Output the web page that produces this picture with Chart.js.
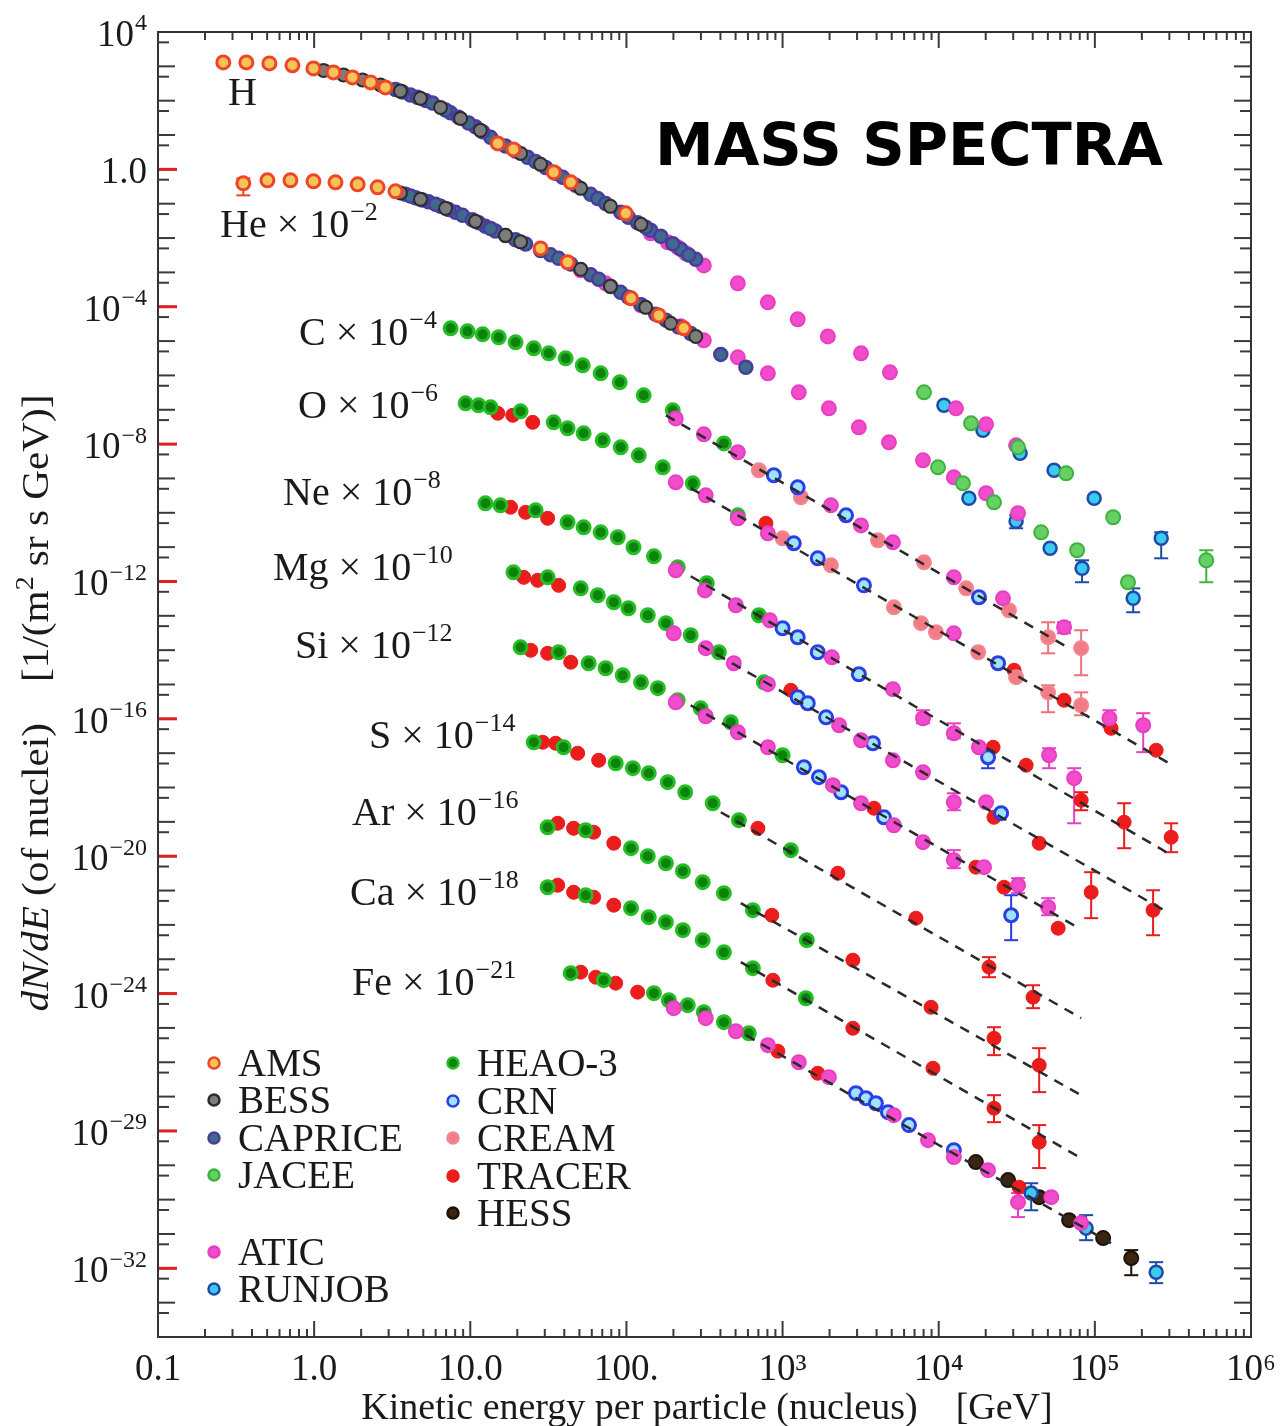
<!DOCTYPE html>
<html>
<head>
<meta charset="utf-8">
<title>Mass spectra</title>
<script src="https://cdn.jsdelivr.net/npm/chart.js@4.4.1/dist/chart.umd.min.js"></script>
<style>
  html, body { margin: 0; padding: 0; background: #fff; }
  #wrap { width: 1285px; height: 1426px; position: relative; }
</style>
</head>
<body>
<div id="wrap"><canvas id="massChart"></canvas></div>
<script>
// axis ticks
const xTickValues = [0.1, 1, 10, 100, 1e3, 1e4, 1e5, 1e6];
const xTickLabels = ['0.1', '1.0', '10.0', '100.', '10³', '10⁴', '10⁵', '10⁶'];
const yTickValues = [1e4, 1, 1e-4, 1e-8, 1e-12, 1e-16, 1e-20, 1e-24, 1e-28, 1e-32];
// [base, exponent] as printed on the original axis
const yTickLabels = [['10','4'],['1.0',''],['10','−4'],['10','−8'],['10','−12'],['10','−16'],
                     ['10','−20'],['10','−24'],['10','−29'],['10','−32']];

// points: [E in GeV, dN/dE, (err a), (err b)]  -- scaled fluxes as plotted
const amsPts = [
  [0.262,1.30e3],[0.368,1.30e3],[0.517,1.22e3],[0.726,1.07e3],[0.99,871],[1.33,667],[1.76,477],[2.30,341],
  [2.86,244],[15.0,5.71],[18.9,3.82],[34.2,0.818],[44.0,0.419],[99,0.0524],
  [0.352,0.391,0.547,0.175],[0.502,0.479],[0.705,0.479],[0.99,0.448],[1.37,0.419],[1.90,0.366],[2.55,0.299],
  [3.32,0.229],[28.2,5.0e-3],[42.0,1.96e-3],[107,1.76e-4],[161,5.6e-5],[233,2.35e-5]
];
const bessPts = [
  [1.15,762],[1.54,564],[2.04,403],[2.66,288],[3.57,190],[4.80,117],[6.45,63.8],[8.67,30.5],[11.6,13.7],
  [21.0,2.92],[28.2,1.40],[51,0.280],[79,0.0837],[124,0.0251],
  [3.57,0.206],[4.80,0.134],[6.95,0.0732],[10.8,0.0306],[16.8,0.012],[21.0,7.75e-3],[51,1.23e-3],[79,3.93e-4],
  [133,9.6e-5],[192,3.29e-5],[278,1.37e-5]
];
const capricePts = [
  [3.32,213],[4.14,147],[5.17,102],[7.48,44.2],[10.8,17.3],[13.5,8.55],[23.3,2.24],[35.2,0.765],[59,0.187],
  [91.9,0.056],[143,0.0168],[223,4.69e-3],[278,2.4e-3],
  [3.68,180],[4.59,125],[5.73,85.7],[6.95,53.2],[8.41,32.7],[9.75,22.4],[12.0,12.4],[16.8,4.80],[19.5,3.41],
  [26.2,1.69],[30.4,1.14],[39.1,0.585],[47.3,0.347],[65.5,0.141],[73.6,0.102],[103,0.0401],[118,0.0279],
  [133,0.0205],[166,0.0113],[198,6.78e-3],[251,3.22e-3],
  [3.85,0.187],[4.46,0.15],[5.40,0.114],[6.45,0.0837],[8.05,0.056],[12.5,0.0219],[14.5,0.0161],[19.5,8.9e-3],
  [32.7,3.24e-3],[59,8.5e-4],[91.9,2.62e-4],[154,6.0e-5],[402,4.1e-6],[582,1.72e-6],
  [4.14,0.167],[4.95,0.129],[6.0,0.097],[7.26,0.0676],[8.93,0.0458],[10.3,0.0341],[11.3,0.0281],[13.5,0.0189],
  [16.8,0.0119],[22.6,6.73e-3],[28.2,4.36e-3],[36.8,2.56e-3],[44.0,1.76e-3],[66.4,6.3e-4],[79.3,3.9e-4],
  [103,1.88e-4],[124,1.15e-4],[179,4.07e-5],[216,2.55e-5],[258,1.66e-5]
];
const jaceePts = [
  [8050,3.22e-7],[16100,4.03e-8],[32200,8.07e-9],[65500,1.41e-9],[131000,7.4e-11],[517000,4.14e-12,8.1e-12,9.5e-13],
  [9900,2.11e-9],[14300,7.2e-10],[22600,2.02e-10],[45300,2.7e-11],[77000,8.1e-12],[163000,9.5e-13]
];
const aticPts = [
  [143,0.0137],[184,0.0075],[213,5.36e-3],[240,3.59e-3],[313,1.6e-3],[517,4.8e-4],[805,1.34e-4],[1250,4.3e-5],
  [1950,1.37e-5],[3180,4.4e-6],[4870,1.23e-6],[12900,1.1e-7],[20100,3.77e-8],[31300,9.2e-9],
  [51,1.15e-3],[73.6,4.8e-4],[124,1.1e-4],[223,2.69e-5],[313,1.05e-5],[517,3.37e-6],[805,1.15e-6],[1270,3.22e-7],
  [1980,1.1e-7],[3080,3.08e-8],[4800,1.13e-8],[7930,3.38e-9],[12500,1.08e-9],[20100,3.7e-10],[32200,9.7e-11],
  [207,5.6e-8],[313,1.93e-8],[517,5.8e-9],[2040,1.65e-10],[3180,4.3e-11],[5090,1.38e-11],[12500,1.32e-12],
  [25800,3.24e-13],[63500,4.64e-14,6.5e-14,3.1e-14],
  [207,7.7e-10],[322,3.23e-10],[517,6.9e-11],[805,2.53e-11],[12500,3.1e-14],[124000,1.04e-16,1.78e-16,5.7e-17],
  [204000,6.5e-17,1.46e-16,1.07e-17],
  [207,2.12e-12],[318,5.5e-13],[502,2.03e-13],[829,7.4e-14],[2070,6.2e-15],[5090,7.3e-16],
  [7930,1.04e-16,1.78e-16,7.4e-17],[12500,3.81e-17,7.4e-17,2.72e-17],[18100,1.49e-17],
  [50900,8.7e-18,1.39e-17,3.65e-18],[73700,1.87e-18,3.65e-18,9.1e-20],
  [201,3.1e-14],[322,1.14e-14],[487,4.16e-15],[805,1.02e-15],[2300,6.5e-17],[3180,2.38e-17],[5090,6.2e-18],
  [7930,2.79e-18],[12500,3.73e-19,6.8e-19,2.18e-19],[20100,3.73e-19],
  [207,3.04e-16],[322,1.19e-16],[517,4.07e-17],[805,1.49e-17],[2100,1.17e-18],[3180,3.49e-19],[5160,7.98e-20],
  [7930,2.56e-20],[12500,7.66e-21,1.5e-20,4.48e-21],[19500,4.8e-21],[32200,1.43e-21,2.29e-21,8.4e-22],
  [50200,3.27e-22,5.98e-22,1.91e-22],
  [201,3.76e-25],[322,1.92e-25],[502,8.0e-26],[805,3.15e-26],[1270,1.0e-26],[1980,3.68e-27],[5160,2.88e-28],
  [8540,5.4e-29],[12500,1.73e-29],[20700,7.2e-30],[32200,8.45e-31,1.55e-30,3.1e-31],[52600,1.18e-30],[81700,2.07e-31]
];
const runjobPts = [
  [10800,1.35e-7],[19200,2.52e-8],[33200,5.4e-9],[54800,1.73e-9],[99000,2.64e-10],[266000,1.81e-11,2.7e-11,4.73e-12],
  [15600,2.64e-10],[31300,5.65e-11,8.45e-11,3.54e-11],[51700,9.3e-12],[82800,2.42e-12,4.14e-12,9.5e-13],
  [176000,3.24e-13,6.3e-13,1.27e-13],
  [39100,1.55e-30,3.0e-30,4.9e-31],[87900,1.48e-31,3.54e-31,6.6e-32],[247000,7.7e-33,1.51e-32,3.7e-33]
];
const heaoPts = [
  [7.48,2.35e-5],[9.6,1.92e-5],[12.0,1.57e-5],[15.2,1.29e-5],[19.5,9.2e-6],[25.5,6.15e-6],[31.8,4.4e-6],
  [40.8,3.15e-6],[52.5,1.97e-6],[68.4,1.15e-6],[90.6,6.3e-7],[129,2.64e-7],[198,9.6e-8],[421,1.05e-8],
  [9.33,1.54e-7],[11.3,1.35e-7],[13.5,1.18e-7],[21.0,9.0e-8],[34.2,4.3e-8],[42.0,2.88e-8],[53.2,2.06e-8],
  [70.5,1.29e-8],[91.9,8.07e-9],[120,4.72e-9],[171,2.11e-9],[266,7.2e-10],[517,8.45e-11],
  [12.5,1.89e-10],[15.6,1.65e-10],[26.2,1.18e-10],[42.0,5.3e-11],[53.2,3.78e-11],[68.4,2.7e-11],[88,1.94e-11],
  [111,9.9e-12],[150,5.4e-12],[213,2.59e-12],[327,8.9e-13],[705,1.04e-13],
  [18.9,1.85e-12],[31.3,1.32e-12],[51,6.3e-13],[65.5,3.97e-13],[83,2.48e-13],[103,1.66e-13],[137,1.04e-13],
  [179,6.1e-14],[258,2.72e-14],[391,8.7e-15],[759,1.16e-15],
  [21.0,1.21e-14],[36.8,8.7e-15],[57.3,4.16e-15],[73.6,2.97e-15],[94.7,1.86e-15],[124,1.16e-15],[159,7.8e-16],
  [213,3.48e-16],[299,2.03e-16],[466,7.96e-17],[1000,8.7e-18],
  [25.5,2.08e-17],[39.6,1.49e-17],[85.4,5.1e-18],[110,3.65e-18],[139,2.61e-18],[184,1.43e-18],[238,7.3e-19],
  [357,3.49e-19],[525,1.12e-19],[1130,1.5e-20],
  [31.3,6.98e-20],[54.8,5.7e-20],[107,1.71e-20],[137,1.0e-20],[179,6.25e-21],[230,3.66e-21],[308,1.75e-21],
  [421,8.4e-22],[645,2.68e-22],[1430,3.59e-23],
  [31.3,1.25e-21],[54.8,7.3e-22],[107,3.06e-22],[139,1.68e-22],[179,1.2e-22],[230,7.0e-23],[308,3.59e-23],
  [421,1.6e-23],[645,5.5e-24],[1410,7.3e-25],
  [44.0,3.93e-24],[71.6,2.45e-24],[150,1.03e-24],[187,6.4e-25],[247,4.6e-25],[313,2.88e-25],[421,1.47e-25],[608,7.0e-26]
];
const crnPts = [
  [879,1.24e-9],[1250,5.5e-10],[2550,8.45e-11],[18100,3.47e-13],
  [1180,1.29e-11],[1680,4.73e-12],[3320,7.7e-13],[24000,4.16e-15],
  [1000,4.34e-14],[1250,2.38e-14],[1680,8.7e-15],[3080,1.99e-15],[20700,7.6e-18,1.39e-17,3.65e-18],
  [1250,4.26e-16],[1450,2.84e-16],[1900,1.11e-16],[3790,1.95e-17],[25100,1.79e-19],
  [1370,3.9e-18],[1710,2.0e-18],[2370,7.3e-19],[4460,1.36e-19],[29100,1.91e-22,7.3e-22,3.59e-23],
  [2950,1.26e-27],[3420,9.0e-28],[3960,6.4e-28],[4730,3.52e-28],[6450,1.48e-28],[12500,2.76e-29]
];
const creamPts = [
  [705,1.73e-9],[1310,2.83e-10],[4080,1.58e-11],[8050,3.62e-12],[15000,6.3e-13],[28200,1.45e-13],
  [50200,2.38e-14,6.5e-14,8.1e-15],[81700,1.14e-14,3.8e-14,1.86e-15],
  [1000,1.81e-11],[2040,2.96e-12],[5160,1.77e-13],[7700,6.1e-14],[9600,3.32e-14],[17900,8.7e-15],[31300,1.63e-15],
  [50200,5.9e-16,9.5e-16,1.56e-16],[81700,2.49e-16,5.9e-16,1.27e-16]
];
const tracerPts = [
  [15.0,7.9e-8],[18.7,6.9e-8],[25.1,4.3e-8],[782,4.95e-11],[30400,2.6e-15],[63500,3.48e-16],[127000,5.3e-17],[247000,1.22e-17],
  [18.1,1.45e-10],[22.6,1.03e-10],[31.3,6.9e-11],[22300,1.49e-17],[36300,4.46e-18],[81700,4.27e-19,7.3e-19,2.18e-19],
  [154000,9.8e-20,3.49e-19,1.71e-20],[308000,3.57e-20,9.1e-20,1.31e-20],
  [22.0,1.32e-12],[27.0,1.08e-12],[36.8,7.7e-13],[1130,6.8e-16],[22600,1.36e-19],[44000,2.39e-20],
  [94700,8.9e-22,3.42e-21,1.57e-22],[236000,2.68e-22,1.02e-21,5.0e-23],
  [24.4,9.9e-15],[31.3,8.1e-15],[44.0,4.45e-15],[3850,2.5e-19],[17300,4.8e-21],[26200,1.25e-21],[58200,8.0e-23],
  [29.1,2.08e-17],[35.2,1.95e-17],[48.7,9.97e-18],[66.4,6.2e-18],[695,6.5e-20],[2260,3.2e-21],[7150,1.57e-22],
  [21000,5.9e-24,1.15e-23,3.0e-24],[40200,7.85e-25,1.75e-24,3.76e-25],
  [36.3,9.1e-20],[45.9,6.5e-20],[61.7,5.0e-20],[83,2.39e-20],[854,1.91e-22],[2820,9.4e-24],[8930,4.0e-25],
  [22600,5.0e-26,1.05e-25,1.61e-26],[44000,8.2e-27,2.57e-26,1.35e-27],
  [36.3,1.43e-21],[45.9,8.9e-22],[61.7,6.4e-22],[83,3.75e-22],[867,2.45e-24],[2820,9.8e-26],[9190,6.7e-27],
  [22600,4.6e-28,1.1e-27,1.8e-28],[44000,4.7e-29,1.48e-28,8.3e-30],
  [51,4.2e-24],[63.6,3.0e-24],[85.4,2.01e-24],[118,1.1e-24],[933,2.1e-26],[1680,4.8e-27],[32700,2.31e-30]
];
const hessPts = [
  [17300,1.24e-29],[27800,3.7e-30],[44000,1.18e-30],[68400,2.53e-31],[113000,7.6e-32],[171000,1.98e-32,3.39e-32,6.3e-33]
];

// power-law fits (dashed), two end points each: C, O, Ne, Mg, Si, S, Ar, Ca, Fe
const fitLines = [
  [[179,6.9e-8],[68400,1.14e-14]],
  [[258,5.2e-10],[299000,5.1e-18]],
  [[258,1.42e-12],[295000,1.22e-20]],
  [[299,1.39e-14],[299000,2.19e-22]],
  [[258,2.49e-16],[79300,8.0e-23]],
  [[402,1.91e-19],[81700,1.92e-25]],
  [[540,4.28e-22],[81700,1.1e-27]],
  [[540,8.2e-24],[81700,1.61e-29]],
  [[582,6.15e-26],[127000,5.4e-32]]
];

const SERIF = "'Liberation Serif', 'Times New Roman', serif";

const experiments = [
  { label: 'AMS',     pts: amsPts,     bg: '#f6c25a', border: '#ef4426', bw: 3,   r: 6.5 },
  { label: 'BESS',    pts: bessPts,    bg: '#7c7c7c', border: '#2c2c2c', bw: 2,   r: 6.5 },
  { label: 'CAPRICE', pts: capricePts, bg: '#3f6a8c', border: '#4a3c9c', bw: 2.5, r: 6.5 },
  { label: 'JACEE',   pts: jaceePts,   bg: '#66d066', border: '#3cb43c', bw: 2,   r: 7 },
  { label: 'ATIC',    pts: aticPts,    bg: '#f04ccc', border: '#e83ec4', bw: 2,   r: 7 },
  { label: 'RUNJOB',  pts: runjobPts,  bg: '#3ccaf0', border: '#1e4aa8', bw: 2.5, r: 6.5 },
  { label: 'HEAO-3',  pts: heaoPts,    bg: '#0c820c', border: '#26bc26', bw: 3,   r: 6.5 },
  { label: 'CRN',     pts: crnPts,     bg: '#9fe4ff', border: '#2a3ee6', bw: 3,   r: 6.5 },
  { label: 'CREAM',   pts: creamPts,   bg: '#f27c86', border: '#f2868f', bw: 2,   r: 7 },
  { label: 'TRACER',  pts: tracerPts,  bg: '#ea1c1c', border: '#ea1c1c', bw: 1,   r: 7 },
  { label: 'HESS',    pts: hessPts,    bg: '#3a2510', border: '#1c1208', bw: 2,   r: 7 }
];

const datasets = experiments.map(e => ({
  label: e.label,
  data: e.pts.map(p => ({ x: p[0], y: p[1] })),
  errs: e.pts.filter(p => p.length > 3),
  backgroundColor: e.bg,
  borderColor: e.border,
  borderWidth: e.bw,
  pointRadius: e.r,
  pointHoverRadius: e.r,
  order: 1
}));
fitLines.forEach(f => datasets.push({
  label: 'fit',
  data: f.map(p => ({ x: p[0], y: p[1] })),
  showLine: true,
  borderColor: '#2a2a2a',
  borderWidth: 2.5,
  borderDash: [10, 8],
  pointRadius: 0,
  fill: false,
  order: 0
}));

function line(ctx, x1, y1, x2, y2) {
  ctx.beginPath(); ctx.moveTo(x1, y1); ctx.lineTo(x2, y2); ctx.stroke();
}

// text with a raised exponent; align 'left' starts at x, 'right' ends at x
function supText(ctx, base, sup, x, y, size, align) {
  const bFont = size + 'px ' + SERIF;
  const sFont = Math.round(size * 0.66) + 'px ' + SERIF;
  ctx.textAlign = 'left';
  ctx.font = bFont;
  const w = ctx.measureText(base).width;
  ctx.font = sFont;
  const ws = sup ? ctx.measureText(sup).width + 1 : 0;
  const x0 = align === 'right' ? x - w - ws : x;
  ctx.font = bFont;
  ctx.fillText(base, x0, y);
  if (!sup) return;
  ctx.font = sFont;
  ctx.fillText(sup, x0 + w + 1, y - size * 0.42);
}

// error bars
const errorBars = {
  id: 'errorBars',
  beforeDatasetsDraw(chart) {
    const { ctx, scales: { x, y } } = chart;
    ctx.save();
    ctx.lineWidth = 2;
    chart.data.datasets.forEach(ds => {
      if (!ds.errs || !ds.errs.length) return;
      ctx.strokeStyle = ds.borderColor === '#f2868f' ? '#ee7080' : ds.borderColor;
      ds.errs.forEach(p => {
        const px = x.getPixelForValue(p[0]);
        const a = y.getPixelForValue(p[2]);
        const b = y.getPixelForValue(p[3]);
        line(ctx, px, a, px, b);
        line(ctx, px - 7, a, px + 7, a);
        line(ctx, px - 7, b, px + 7, b);
      });
    });
    ctx.restore();
  }
};

// frame with inward ticks and the y labels
const frameTicks = {
  id: 'frameTicks',
  afterDatasetsDraw(chart) {
    const { ctx, chartArea: a, scales: { x, y } } = chart;
    ctx.save();
    ctx.strokeStyle = '#3a3a3a';
    ctx.lineWidth = 2;
    for (let d = -1; d <= 5; d++) {
      for (let m = 1; m <= 9; m++) {
        const px = x.getPixelForValue(m * Math.pow(10, d));
        const len = m === 1 ? 16 : 8;
        line(ctx, px, a.bottom, px, a.bottom - len);
        line(ctx, px, a.top, px, a.top + len);
      }
    }
    for (let d = -34; d <= 4; d++) {
      [1, 0.5].forEach(m => {
        const v = m * Math.pow(10, d);
        if (v < 1e-34 || v > 1e4) return;
        const py = y.getPixelForValue(v);
        const len = m === 1 ? 17 : 11;
        line(ctx, a.left, py, a.left + len, py);
        line(ctx, a.right, py, a.right - len, py);
      });
    }
    ctx.strokeStyle = '#e02020';
    ctx.lineWidth = 3;
    yTickValues.slice(1).forEach(v => {
      const py = y.getPixelForValue(v);
      line(ctx, a.left, py, a.left + 19, py);
    });
    ctx.strokeStyle = '#333';
    ctx.lineWidth = 2;
    ctx.strokeRect(a.left, a.top, a.right - a.left, a.bottom - a.top);

    ctx.fillStyle = '#1a1a1a';
    ctx.textBaseline = 'alphabetic';
    yTickValues.forEach((v, i) => {
      const py = y.getPixelForValue(v);
      supText(ctx, yTickLabels[i][0], yTickLabels[i][1], a.left - 11, py + 14, 37, 'right');
    });
    ctx.restore();
  }
};

// labels, legend, titles
const annotations = [
  ['H', '', 228, 105],
  ['He × 10', '−2', 220, 237],
  ['C × 10', '−4', 299, 345],
  ['O × 10', '−6', 298, 418],
  ['Ne × 10', '−8', 283, 505],
  ['Mg × 10', '−10', 273, 580],
  ['Si × 10', '−12', 295, 658],
  ['S × 10', '−14', 369, 748],
  ['Ar × 10', '−16', 352, 825],
  ['Ca × 10', '−18', 350, 905],
  ['Fe × 10', '−21', 352, 995]
];
const legendLayout = [
  ['AMS', 214, 1063], ['BESS', 214, 1100], ['CAPRICE', 214, 1138], ['JACEE', 214, 1175],
  ['ATIC', 214, 1252], ['RUNJOB', 214, 1289],
  ['HEAO-3', 453, 1063], ['CRN', 453, 1101], ['CREAM', 453, 1138], ['TRACER', 453, 1176], ['HESS', 453, 1213]
];

const decorations = {
  id: 'decorations',
  afterDraw(chart) {
    const { ctx } = chart;
    ctx.save();
    ctx.fillStyle = '#1a1a1a';
    ctx.textBaseline = 'alphabetic';
    annotations.forEach(t => supText(ctx, t[0], t[1], t[2], t[3], 40, 'left'));

    legendLayout.forEach(([name, lx, ly]) => {
      const e = experiments.find(k => k.label === name);
      ctx.beginPath();
      ctx.arc(lx, ly, 5.5, 0, Math.PI * 2);
      ctx.fillStyle = e.bg;
      ctx.fill();
      ctx.lineWidth = 2.5;
      ctx.strokeStyle = e.border;
      ctx.stroke();
      ctx.fillStyle = '#1a1a1a';
      ctx.font = '39px ' + SERIF;
      ctx.textAlign = 'left';
      ctx.fillText(name, lx + 24, ly + 13);
    });

    ctx.font = 'bold 59px "DejaVu Sans", sans-serif';
    ctx.fillStyle = '#000';
    ctx.textAlign = 'left';
    ctx.fillText('MASS SPECTRA', 655, 165, 508);

    ctx.fillStyle = '#1a1a1a';
    ctx.font = '38px ' + SERIF;
    ctx.textAlign = 'center';
    ctx.fillText('Kinetic energy per particle (nucleus)    [GeV]', 707, 1419, 700);

    // rotated y title with italic dN/dE and superscript, stretched to the original length
    ctx.translate(48, 703);
    ctx.rotate(-Math.PI / 2);
    ctx.textAlign = 'left';
    const parts = [
      ['dN/dE', 'italic 37px ' + SERIF, 0],
      [' (of nuclei)    [1/(m', '37px ' + SERIF, 0],
      ['2', '25px ' + SERIF, -15],
      [' sr s GeV)]', '37px ' + SERIF, 0]
    ];
    let total = 0;
    parts.forEach(p => { ctx.font = p[1]; total += ctx.measureText(p[0]).width; });
    const k = 617 / total;
    ctx.scale(k, 1);
    let cx = -total / 2;
    parts.forEach(p => {
      ctx.font = p[1];
      ctx.fillText(p[0], cx, p[2]);
      cx += ctx.measureText(p[0]).width;
    });
    ctx.restore();
  }
};

Chart.defaults.font.family = SERIF;
Chart.defaults.color = '#1a1a1a';

new Chart(document.getElementById('massChart'), {
  type: 'scatter',
  data: { datasets },
  options: {
    responsive: true,
    maintainAspectRatio: false,
    animation: false,
    events: [],
    layout: { padding: { left: 0, right: 34, top: 32, bottom: 0 } },
    plugins: { legend: { display: false }, tooltip: { enabled: false } },
    scales: {
      x: {
        type: 'logarithmic',
        min: 0.1,
        max: 1e6,
        grid: { display: false },
        border: { display: false },
        afterBuildTicks: s => { s.ticks = xTickValues.map(v => ({ value: v })); },
        afterFit: s => { s.height = 89; },
        ticks: {
          autoSkip: false, maxRotation: 0, padding: 3,
          font: { size: 37, family: SERIF },
          callback: (v, i) => xTickLabels[i]
        }
      },
      y: {
        type: 'logarithmic',
        min: 1e-34,
        max: 1e4,
        grid: { display: false },
        border: { display: false },
        afterBuildTicks: s => { s.ticks = yTickValues.map(v => ({ value: v })); },
        afterFit: s => { s.width = 158; },
        ticks: { display: false }
      }
    }
  },
  plugins: [errorBars, frameTicks, decorations]
});
</script>
</body>
</html>
